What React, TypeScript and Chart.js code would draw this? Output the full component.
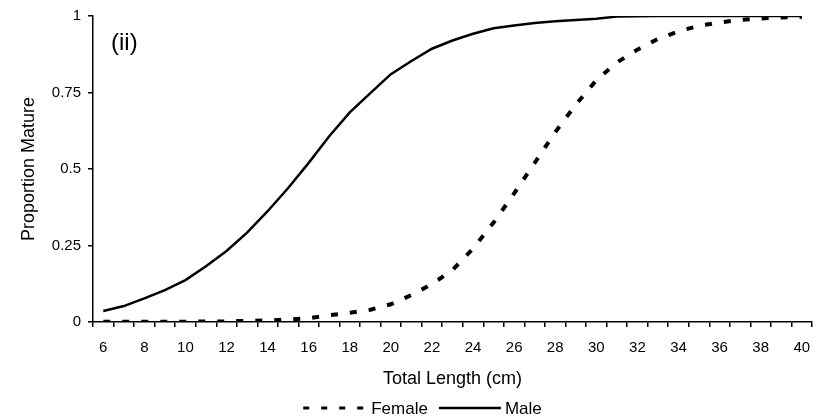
import { useEffect, useRef } from "react";
import { Chart, registerables } from "chart.js";

Chart.register(...registerables);

const FONT = "'Liberation Sans', Arial, Helvetica, sans-serif";

// Total length classes (cm)
const lengths = [
  6, 7, 8, 9, 10, 11, 12, 13, 14, 15, 16, 17, 18, 19, 20, 21, 22, 23,
  24, 25, 26, 27, 28, 29, 30, 31, 32, 33, 34, 35, 36, 37, 38, 39, 40,
];

// Proportion mature at each length
const female = [
  0.001, 0.001, 0.001, 0.001, 0.001, 0.002, 0.002, 0.004, 0.005, 0.008,
  0.012, 0.022, 0.03, 0.04, 0.058, 0.088, 0.124, 0.17, 0.24, 0.325,
  0.42, 0.52, 0.62, 0.71, 0.79, 0.848, 0.89, 0.925, 0.95, 0.968,
  0.979, 0.987, 0.992, 0.995, 0.997,
];
const male = [
  0.036, 0.052, 0.077, 0.104, 0.137, 0.182, 0.232, 0.292, 0.362, 0.438,
  0.52, 0.607, 0.685, 0.748, 0.81, 0.853, 0.893, 0.92, 0.942, 0.96,
  0.969, 0.977, 0.983, 0.987, 0.991, 0.998, 0.999, 1, 1, 1,
  1, 1, 1, 1, 1,
];

const xTickLabels = [
  "6", "8", "10", "12", "14", "16", "18", "20", "22", "24", "26", "28",
  "30", "32", "34", "36", "38", "40",
];
const yTicks = [0, 0.25, 0.5, 0.75, 1];

const panelLabel = "(ii)";
const seriesNames = ["Female", "Male"];

// Draws the panel tag inside the plot and the legend row underneath.
const overlayPlugin = {
  id: "overlayText",
  afterDraw(chart: any) {
    const { ctx, chartArea } = chart;
    ctx.save();
    ctx.fillStyle = "#000";
    ctx.font = `24px ${FONT}`;
    ctx.textBaseline = "alphabetic";
    ctx.textAlign = "left";
    ctx.fillText(panelLabel, chartArea.left + 18, chartArea.top + 34);

    // legend
    ctx.font = `17px ${FONT}`;
    ctx.textBaseline = "middle";
    const ds = chart.data.datasets;
    const lineLens = [60, 62];
    const legendDash = [[6, 12], []];
    const gapAfterLine = [8, 4];
    const gapAfterText = 11;
    const widths = ds.map((d: any) => ctx.measureText(d.label).width);
    let total = 0;
    ds.forEach((_: any, i: number) => {
      total += lineLens[i] + gapAfterLine[i] + widths[i];
      if (i < ds.length - 1) total += gapAfterText;
    });
    const cy = 408;
    let x = 422.5 - total / 2;
    ds.forEach((d: any, i: number) => {
      ctx.save();
      ctx.strokeStyle = d.borderColor;
      ctx.lineWidth = i === 0 ? 3 : 2.5;
      ctx.setLineDash(legendDash[i]);
      ctx.lineCap = "butt";
      ctx.beginPath();
      ctx.moveTo(x, cy);
      ctx.lineTo(x + lineLens[i], cy);
      ctx.stroke();
      ctx.restore();
      x += lineLens[i] + gapAfterLine[i];
      ctx.fillText(d.label, x, cy + 1);
      x += widths[i] + gapAfterText;
    });
    ctx.restore();
  },
};

export default function App() {
  const canvasRef = useRef<HTMLCanvasElement | null>(null);

  useEffect(() => {
    if (!canvasRef.current) return;
    const chart = new Chart(canvasRef.current, {
      type: "line",
      data: {
        labels: lengths.map(String),
        datasets: [
          {
            label: seriesNames[0],
            data: female,
            borderColor: "#000",
            borderWidth: 4,
            borderDash: [7, 12],
            borderCapStyle: "butt",
            pointRadius: 0,
            tension: 0,
            fill: false,
          },
          {
            label: seriesNames[1],
            data: male,
            borderColor: "#000",
            borderWidth: 2.5,
            pointRadius: 0,
            tension: 0,
            fill: false,
          },
        ],
      },
      options: {
        animation: false,
        responsive: true,
        maintainAspectRatio: false,
        layout: { padding: { left: 0, top: 14, right: 13, bottom: 28 } },
        plugins: {
          legend: { display: false },
          tooltip: { enabled: false },
        },
        scales: {
          x: {
            type: "category",
            offset: true,
            afterFit: (s: any) => {
              s.height = 70;
            },
            ticks: {
              autoSkip: false,
              maxRotation: 0,
              minRotation: 0,
              color: "#000",
              padding: 11.4,
              font: { family: FONT, size: 15 },
              callback: function (this: any, val: any) {
                const l = this.getLabelForValue(val);
                return xTickLabels.includes(l) ? l : "";
              },
            },
            grid: {
              offset: true,
              drawOnChartArea: false,
              drawTicks: true,
              tickLength: 5,
              color: "#000",
              lineWidth: 1.5,
            },
            border: { display: true, color: "#000", width: 1.5 },
            title: {
              display: true,
              text: "Total Length (cm)",
              color: "#000",
              font: { family: FONT, size: 18 },
              padding: { top: 0, bottom: 1.8 },
            },
          },
          y: {
            min: 0,
            max: 1,
            afterFit: (s: any) => {
              s.width = 93;
            },
            afterBuildTicks: (s: any) => {
              s.ticks = yTicks.map((v) => ({ value: v }));
            },
            ticks: {
              color: "#000",
              padding: 7,
              font: { family: FONT, size: 15 },
              callback: (v: any) => String(v),
            },
            grid: {
              drawOnChartArea: false,
              drawTicks: true,
              tickLength: 5,
              color: "#000",
              lineWidth: 1.5,
            },
            border: { display: true, color: "#000", width: 1.5 },
            title: {
              display: true,
              text: "Proportion Mature",
              color: "#000",
              font: { family: FONT, size: 18 },
              padding: { top: 18.5, bottom: 0 },
            },
          },
        },
      },
      plugins: [overlayPlugin],
    });
    return () => chart.destroy();
  }, []);

  return (
    <div style={{ position: "fixed", left: 0, top: 0, width: 825, height: 420, background: "#fff" }}>
      <canvas ref={canvasRef} />
    </div>
  );
}
